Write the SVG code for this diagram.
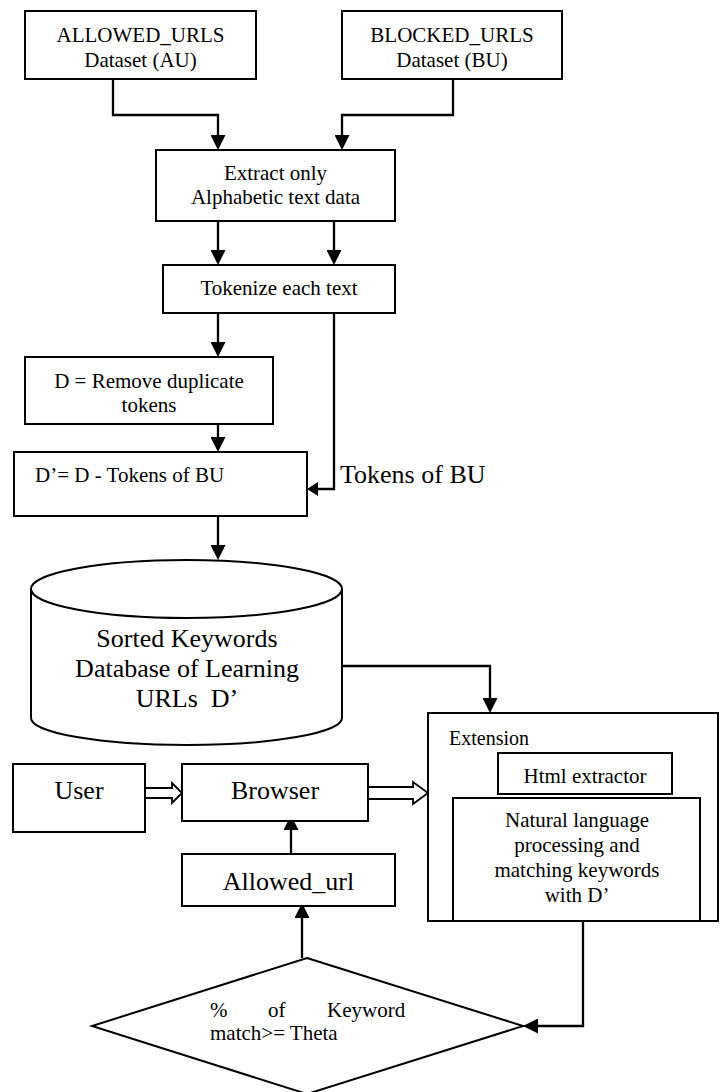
<svg xmlns="http://www.w3.org/2000/svg" width="721" height="1092" viewBox="0 0 721 1092">
<style>
.box{fill:#fff;stroke:#000;stroke-width:2}
.t{font-family:"Liberation Serif","Times New Roman",serif;font-size:21px;fill:#000;text-anchor:middle}
.big{font-size:26px}
.st{text-anchor:start}
.con{fill:none;stroke:#000;stroke-width:2.3}
.hollow{fill:#fff;stroke:#000;stroke-width:1.8;stroke-linejoin:miter}
</style>
<defs>
<marker id="arrow" markerUnits="userSpaceOnUse" viewBox="0 0 15 15" markerWidth="15" markerHeight="15" refX="12" refY="7.5" orient="auto">
<path d="M0,0 L15,7.5 L0,15 Z" fill="#000"/>
</marker>
<marker id="arrowSm" markerUnits="userSpaceOnUse" viewBox="0 0 11 14" markerWidth="11" markerHeight="14" refX="8" refY="7" orient="auto">
<path d="M0,0 L11,7 L0,14 Z" fill="#000"/>
</marker>
</defs>

<g id="connectors">
<path class="con" d="M113,79 V115 H218 V147" marker-end="url(#arrow)"/>
<path class="con" d="M453,79 V115 H342 V147" marker-end="url(#arrow)"/>
<path class="con" d="M218,221 V262" marker-end="url(#arrow)"/>
<path class="con" d="M334,221 V262" marker-end="url(#arrow)"/>
<path class="con" d="M218,313 V354" marker-end="url(#arrow)"/>
<path class="con" d="M334,313 V489 H310" marker-end="url(#arrowSm)"/>
<path class="con" d="M218,424 V449" marker-end="url(#arrow)"/>
<path class="con" d="M218,516 V557" marker-end="url(#arrow)"/>
<path class="con" d="M342,666 H490 V710" marker-end="url(#arrow)"/>
<path class="con" d="M583,921 V1026 H526" marker-end="url(#arrow)"/>
<path class="con" d="M291,854 V818" marker-end="url(#arrow)"/>
<path class="con" d="M302,958 V906" marker-end="url(#arrow)"/>
<polygon class="hollow" points="145,788 172,788 172,783 182,793 172,803 172,798 145,798"/>
<polygon class="hollow" points="368,787 413,787 413,782 428,793 413,804 413,799 368,799"/>
<text class="t st" x="340" y="483" style="font-size:26px">Tokens of BU</text>
</g>

<g id="allowed-urls">
<rect class="box" x="25" y="11" width="231" height="68"/>
<text class="t" x="140.5" y="42">ALLOWED_URLS</text>
<text class="t" x="140.5" y="67">Dataset (AU)</text>
</g>

<g id="blocked-urls">
<rect class="box" x="342" y="11" width="220" height="68"/>
<text class="t" x="452" y="42">BLOCKED_URLS</text>
<text class="t" x="452" y="67">Dataset (BU)</text>
</g>

<g id="extract">
<rect class="box" x="156" y="150" width="239" height="71"/>
<text class="t" x="275.5" y="180">Extract only</text>
<text class="t" x="275.5" y="204">Alphabetic text data</text>
</g>

<g id="tokenize">
<rect class="box" x="163" y="265" width="232" height="48"/>
<text class="t" x="279" y="295">Tokenize each text</text>
</g>

<g id="remove-duplicates">
<rect class="box" x="25" y="357" width="248" height="67"/>
<text class="t" x="149" y="388">D = Remove duplicate</text>
<text class="t" x="149" y="412">tokens</text>
</g>

<g id="d-prime">
<rect class="box" x="14" y="452" width="293" height="64"/>
<text class="t st" x="35" y="482">D’= D - Tokens of BU</text>
</g>

<g id="database">
<path class="box" d="M31,589 V718 A155.5,27 0 0 0 342,718 V589"/>
<ellipse class="box" cx="186.5" cy="589" rx="155.5" ry="29"/>
<text class="t big" x="187" y="647">Sorted Keywords</text>
<text class="t big" x="187" y="677">Database of Learning</text>
<text class="t big" x="187" y="707">URLs&#160; D’</text>
</g>

<g id="user">
<rect class="box" x="13" y="764" width="132" height="68"/>
<text class="t big" x="79" y="799">User</text>
</g>

<g id="browser">
<rect class="box" x="182" y="764" width="186" height="57"/>
<text class="t big" x="275" y="799">Browser</text>
</g>

<g id="allowed-url">
<rect class="box" x="182" y="854" width="213" height="52"/>
<text class="t big" x="288.5" y="890">Allowed_url</text>
</g>

<g id="extension">
<rect class="box" x="428" y="713" width="290" height="208"/>
<text class="t st" x="449" y="745" style="font-size:20px">Extension</text>
</g>

<g id="html-extractor">
<rect class="box" x="498" y="753" width="174" height="41"/>
<text class="t" x="585" y="783">Html extractor</text>
</g>

<g id="nlp">
<rect class="box" x="453" y="798" width="247" height="123"/>
<text class="t" x="577" y="827">Natural language</text>
<text class="t" x="577" y="852">processing and</text>
<text class="t" x="577" y="877">matching keywords</text>
<text class="t" x="577" y="902">with D’</text>
</g>

<g id="decision">
<polygon class="box" points="307,958 523,1026 307,1094 92,1026"/>
<text class="t st" y="1017"><tspan x="210">%</tspan><tspan x="268">of</tspan><tspan x="327">Keyword</tspan></text>
<text class="t st" x="210" y="1040">match&gt;= Theta</text>
</g>
</svg>
